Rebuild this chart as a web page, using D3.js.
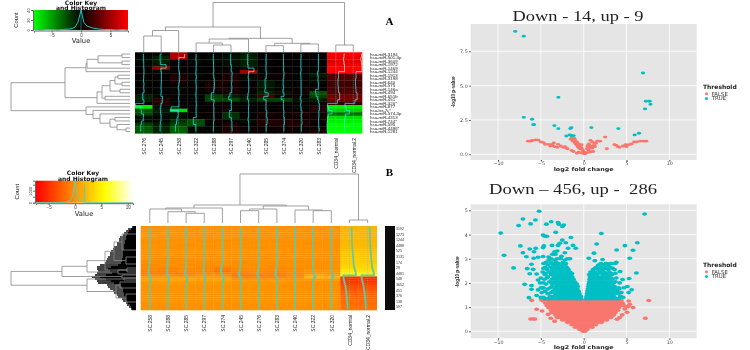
<!DOCTYPE html>
<html>
<head>
<meta charset="utf-8">
<script src="https://cdn.jsdelivr.net/npm/d3@7"></script>
<style>
body { margin: 0; background: #fff; }
svg { display: block; filter: blur(0.35px); }
text { font-family: "DejaVu Sans", sans-serif; }
.narrow { font-family: "Liberation Sans", sans-serif; }
.serif { font-family: "Liberation Serif", serif; }
</style>
</head>
<body>
<div id="chart"></div>
<script>
// ---- heatmap A
var colsA = ["SC.276", "SC.245", "SC.258", "SC.322", "SC.288", "SC.297", "SC.240", "SC.285", "SC.374", "SC.320", "SC.283", "CD34_normal", "CD34_normal.2"];
var rowsA = ["hsa-miR-3194", "hsa-miR-501-3p", "hsa-miR-3609", "hsa-miR-1972", "hsa-miR-1469", "hsa-miR-1244", "hsa-miR-1913", "hsa-miR-3198", "hsa-miR-640", "hsa-miR-575", "hsa-miR-146a", "hsa-miR-494", "hsa-miR-651b", "hsa-miR-451", "hsa-miR-320*", "hsa-miR-877", "hsa-let-7c*", "hsa-miR-574-3p", "hsa-miR-4313", "hsa-miR-744*", "hsa-miR-595", "hsa-miR-4486*", "hsa-miR-1281"];
var matrixA = [
    [0, .3, 5.5, 0, 0, -.3, -.8, 0, 0, .3, 0, 8, 8],
    [-.3, -1, 5.5, 0, -.2, -.5, -1, .2, 0, .2, .2, 7.5, 7.5],
    [-.3, -1, .2, -.2, -.3, -.5, -1, .1, 0, 0, .2, 7, 7],
    [0, -.8, .2, .2, 0, -.4, -.9, .2, .1, 0, 0, 7.5, 7.5],
    [0, 4.5, 0, 0, 0, .2, -.5, 0, .2, 0, 0, 8, 8],
    [.2, -.3, .2, 0, .2, .2, 5, 0, 0, .2, 0, 8, 8],
    [.2, .2, .8, -.3, -.2, 1, .2, .4, .6, -.2, -.8, 2.5, 2.5],
    [0, .2, 1, .3, .3, .8, -.3, .2, .3, 0, -.3, 2.5, 2.5],
    [-.2, .2, .8, -.2, .7, .8, .2, -.8, -.2, .2, -.3, 2, 2],
    [.2, 0, .3, 0, .8, .5, .2, -.8, -.3, .2, .2, 2, 2],
    [0, -.2, -.3, .2, .7, .8, .3, -.6, .2, .2, 0, 2.3, 2.3],
    [.3, 0, .2, 0, .2, .6, .2, -1, -.5, .3, -2.5, 2.5, 2.5],
    [-1, -.2, .3, -.2, -2, -1, -.5, 2, .5, .3, -2, 3.5, 3.5],
    [-1, 1.2, 0, 0, -2.2, -2.2, -1, -2, -2, -.5, -.8, 3.5, 3.5],
    [.2, 1, .3, 0, .5, .4, .1, .1, .1, .2, .3, 1.5, 1.5],
    [-7.5, -.3, .3, .2, 0, .2, .2, 0, 0, -.2, 1, -7.5, -7.5],
    [-2.5, -.8, -7, 0, .3, .5, 0, 0, .2, .2, 1, -6.5, -6.5],
    [-2.2, -.6, -.5, 0, .3, -1.5, .1, .8, .5, .9, .5, -3.5, -3.5],
    [-.3, -.2, -.5, .1, .3, -1.5, .2, .4, .3, .4, .6, -7, -7],
    [-.5, -.2, -1.5, -2.5, .4, .3, -.4, 1.2, 1, .8, .3, -7.5, -7.5],
    [-2, -.8, -2, -2.5, -.1, .8, .2, 1, 1, 1, .3, -8, -8],
    [-2.8, -1, -3, -.3, -.1, .8, .3, .2, .4, .4, .4, -8, -8],
    [-2.8, -1, -3, -.2, -.2, 1, .4, .3, .5, .4, .8, -8, -8]
];
// trees are [height, left, right], a bare number is a leaf index
var colTreeA = [49.5, [25, [21.5, [16, 0, 1], 2], [13.7, [13, [9, 3, [7, 4, 5]], 6], [8.7, [6.3, 7, 8], [8, 9, 10]]]], [7, 11, 12]];
var rowTreeA = [119, [65, [44, [43, [32, [8, 0, 1], [8, 2, 3]], 4], 5],
    [33, [28, [20, [15, [12, 6, 7], [8, 8, 9]], [10, 10, 11]], [25, 12, 13]], 14]],
    [44, 15, [37, 16, [30, 17, [20, [15, 18, 19], [13, 20, [4, 21, 22]]]]]]];
var keyTicksA = [-5, 0, 5];
var histBinsA = [-8, -7, -6, -5, -4, -3, -2, -1.5, -1, -.5, 0, .5, 1, 1.5, 2, 3, 4, 5, 6, 7, 8];
var histCountsA = [1, 0, 1, 1, 0, 1, 2, 3, 6, 16, 40, 15, 8, 6, 4, 2, 1, 1, 0, 1, 0];

// ---- heatmap B
var colsB = ["SC.258", "SC.288", "SC.285", "SC.297", "SC.374", "SC.245", "SC.276", "SC.283", "SC.240", "SC.322", "SC.320", "CD34_normal", "CD34_normal.2"];
var matrixB = [
    [0, .1, 0, .1, 0, .1, 0, .1, 0, .1, 0, 1.7, 1.8],
    [.1, 0, .1, 0, .1, 0, .1, 0, .2, 0, .1, 1.7, 1.7],
    [-.1, 0, -.1, .1, 0, 0, -.1, 0, 0, -.1, 0, 1.8, 1.8],
    [0, .2, .1, 0, .1, .1, 0, .2, .1, 0, .1, 1.9, 1.8],
    [.2, 0, 0, -.1, 0, .1, .1, 0, 0, .1, 0, 1.8, 1.9],
    [0, -.1, .1, 0, .2, 0, 0, .1, -.1, 0, .1, 2, 1.9],
    [.1, .1, 0, .1, 0, -.1, .1, 0, .1, .1, 0, 2, 2],
    [-.1, 0, .2, 0, 0, .1, 0, -.1, 0, 0, .1, 2, 2],
    [0, .1, 0, .2, .1, 0, .1, .1, .1, -.1, 0, 2.1, 2.1],
    [.2, 0, -.1, 0, 0, .1, .1, 0, 0, .1, 0, 2.2, 2.1],
    [0, -.1, .1, .1, .1, 0, -.1, .1, .1, 0, .1, 2.3, 2.3],
    [.1, .1, 0, 0, -.1, .1, 0, 0, 0, .1, 0, 2.4, 2.4],
    [0, 0, .1, .1, .2, 0, .1, .1, -.1, 0, 0, 2.6, 2.5],
    [-.2, .1, 0, -.1, 0, -.1, 0, -.1, .1, 0, .1, 2.7, 2.7],
    [0, 0, .1, 0, .1, .1, -.1, 0, 0, .1, 0, 2.8, 2.8],
    [.1, -.2, 0, .1, 0, 0, .1, .1, .1, 0, 0, 3, 2.9],
    [-.1, 0, -.1, 0, .2, .1, 0, 0, -.1, 0, .1, 3.1, 3],
    [0, -.2, .1, -.1, 0, -.2, .1, -.1, 0, .1, 0, 3.2, 3.2],
    [-.3, .1, -.2, 0, .1, 0, -.1, 0, .1, 0, 0, 3.4, 3.4],
    [-.2, -.3, 0, -.2, -.5, -.1, 0, -.2, 0, -.1, .1, 3.6, 3.6],
    [-.5, -.5, -.3, -.3, -1, -.3, -.2, -.3, -.2, 0, 0, 4, 3.9],
    [-.8, -.8, -.5, -.6, -1.4, -.5, -.4, -.6, -.3, .1, .1, 4.5, 4.3],
    [-1, -.9, -.8, -.5, -.8, -.9, -.7, -.9, -.4, .3, .2, 5, 4.8],
    [-.6, -.5, -.5, -.2, -.3, -1.4, -1.2, -1.2, -.6, 1, .7, 5.3, 5.2],
    [.4, .6, .6, .5, .5, -.8, -.7, -.6, -.1, 2, 1.8, -5, -5],
    [.8, .9, 1, .8, 1, .2, .3, .4, .2, .5, .5, -4.8, -4.8],
    [.5, .7, .6, .5, .7, .4, .4, .5, .3, .2, .1, -4.4, -4.5],
    [.3, .4, .4, .3, .4, .2, .3, .2, .1, 0, .1, -4, -4],
    [.2, .2, .1, .2, .2, .1, .2, .1, 0, .1, 0, -3.6, -3.5],
    [.1, .2, .2, .1, .1, 0, .1, .1, .1, 0, .1, -3.2, -3.2],
    [0, .1, .1, .1, .2, .1, 0, .1, 0, 0, 0, -2.9, -2.9],
    [.1, 0, .1, 0, .1, .1, .1, 0, .1, .1, 0, -2.7, -2.7],
    [0, .1, 0, .1, 0, 0, .1, .1, 0, 0, .1, -2.5, -2.4],
    [.1, .1, .1, 0, .1, .1, 0, 0, .1, .1, 0, -2.3, -2.3],
    [0, 0, .1, .1, 0, 0, .1, .1, 0, 0, .1, -2.1, -2.1],
    [.1, .1, 0, 0, .1, .1, 0, 0, .1, 0, 0, -2, -2],
    [0, .1, .1, .1, 0, 0, .1, .1, 0, .1, .1, -1.9, -1.9],
    [.1, 0, 0, 0, .1, .1, 0, 0, .1, 0, 0, -1.7, -1.7],
    [0, .1, .1, .1, 0, 0, .1, .1, 0, .1, .1, -1.6, -1.6],
    [.1, 0, 0, 0, .1, .1, 0, 0, .1, 0, 0, -1.5, -1.5]
];
var colTreeB = [49, [18, [15, [14, 0, [11.3, 1, [9.7, 2, 3]]], 4], [17, [14, [12.3, 5, 6], 7], [13, 8, [12.3, 9, 10]]]], [3, 11, 12]];
// upper levels of the row tree, leaves are row positions out of 84
var rowTreeB = [125, [74, [49, [31, [22, [14, 8, 24], [10, 31, 38]], [9, 42, 46]], [18, 44, 48]], [14, 49, 52]],
    [49, [12, 52, 54], [20, [16, 56, 62], [10, 68, 76]]]];
// comb and solid part of the unreadable leaf mass, one value every two rows
var combDepthB = [4, 8, 10, 12, 13, 16, 17, 17, 19, 19, 22, 23, 25, 26, 26, 28, 29, 30, 31, 36, 39, 39, 38, 39, 41, 44, 41, 39, 38, 29, 28, 26, 23, 22, 19, 18, 14, 13, 10, 9, 7, 5];
var solidDepthB = [3, 5, 7, 8, 9, 10, 10, 11, 11, 12, 12, 12, 13, 13, 13, 13, 14, 14, 15, 18, 25, 28, 26, 24, 30, 36, 30, 25, 22, 15, 14, 13, 13, 12, 12, 11, 10, 9, 8, 6, 5, 4];
var rowTagsB = ["3192", "1273", "1244", "4488", "525", "3131", "174", "28", "4481", "548", "3652", "451", "376", "138", "597"];
var keyTicksB = [-5, 0, 5, 10];
var histBinsB = [-7.4, -3, -1.5, -.8, -.4, 0, .4, .8, 1.5, 1.7, 1.8, 1.9, 2.2, 5, 11];
var histCountsB = [0, 10, 60, 220, 700, 1830, 700, 220, 60, 30, 1500, 30, 10, 2, 0];

// ---- volcano A
var xTicks = [-10, -5, 0, 5, 10];
var yTicksA = [0, 2.5, 5, 7.5];
var trueA = [[-8, 8.95], [-7, 8.6], [6.93, 5.92], [-2.96, 4.15], [7.28, 3.86], [7.7, 3.86], [7.8, 3.64], [7.16, 3.3], [-7, 2.69], [-6.03, 2.55], [-5.9, 2.16], [-5.8, 2.16], [-3.42, 2.09], [-2.96, 1.87], [-1.56, 1.87], [-1.44, 1.94], [.9, 1.94], [4.05, 1.87], [6.46, 1.53], [5.95, 1.41], [-2.02, 1.33], [-1.63, 1.41], [-1.44, 1.36], [-1.17, 1.36]];
var falseA = [[-6.5, .95], [-6.2, .95], [-6, 1], [-5.6, 1.05], [-5.3, 1.03], [-5, .9], [-4.7, .85], [-4.5, .72], [-4.1, .72], [-3.8, .7], [-3.6, .62], [-3.9, .6], [-3.4, .55], [-3.1, .5], [-3.5, .82], [-3, .72], [-2.7, .6], [-2.4, .5], [-2.2, .56], [-2, .45], [-1.9, .4], [-1.4, .28],
    [-1.5, 1.1], [-1.4, 1.2], [-1.3, 1.05], [-1.25, .95], [-1.1, 1.15], [-1.05, .9], [-1, 1], [-.95, .8], [-.9, .72], [-.8, .9], [-.75, .65], [-.7, .55], [-.6, .75], [-.55, .45], [-.5, .6], [-.4, .4], [-.3, .5], [-.25, .7], [-.15, .35], [-.1, .25], [0, .15], [.05, .05], [-.1, .08], [.2, .05], [.15, .12], [.3, .1], [-.3, .1], [.4, .4], [.45, .55], [.5, .65], [.55, .3], [.6, .75], [.7, .5], [.75, .45], [.9, .6], [1, .45], [1.1, .2], [.8, .18], [.6, .15], [1.2, .65], [1.3, .55], [1.4, .8], [-.6, .15], [-.8, .07], [-1.2, .2],
    [.8, 1], [1, .9], [1.3, .8], [1.6, .95], [1.9, .95], [2.5, 1.25], [2.7, .4], [3.6, .7], [3.8, .65], [4, .55], [4.2, .5], [4.6, .6], [4.9, .7], [5, .55], [5.3, .7], [5.6, .75], [5.9, .9], [6.2, .9], [6.6, .95], [7, .95], [7.3, .95]];

// ---- volcano B, the solid areas are read row by row: [y, [x, x, ...]]
var yTicksB = [0, 1, 2, 3, 4, 5];
var trueB = [[-5.2, 4.96], [-7.1, 4.64], [-5.64, 4.6], [-6.2, 4.44], [-7.6, 4.37], [-4.35, 4.43], [-3.8, 4.53], [-3, 4.5], [-2.9, 4.43], [-2.33, 4.39], [-2.5, 4.33], [-3.27, 4.09], [-9.7, 4.06], [-4.75, 3.98], [-4.3, 3.93], [-4.55, 3.93], [-1.5, 3.88], [-2.5, 3.77], [-2.1, 3.66], [-2.8, 3.64], [-3, 3.55], [-1.83, 3.43], [-1.25, 3.55], [-.93, 3.43], [-7.4, 3.53], [-4.66, 3.53], [-4.75, 3.46], [-3.7, 3.55], [-6.3, 3.4], [-5.6, 3.43], [-5.8, 3.29], [-7.1, 3.25], [-3.4, 3.29], [-3.1, 3.32], [-3.65, 3.18], [-3.3, 3.18], [-9.3, 3.14], [-6.7, 3.08], [-5.84, 3.02], [-5.33, 3.06], [-4.75, 3.09], [-6.1, 2.77], [-8.2, 2.62], [-6.6, 2.59], [-5.9, 2.56], [-6.3, 2.38], [-5.5, 2.37], [-5.33, 2.12], [-6.9, 1.94], [-6.1, 1.89], [-6.1, 1.74], [-5.33, 1.71], [-5.5, 1.48], [-6.4, 1.39], [-4.8, 1.78],
    [7.12, 4.85], [2.06, 4.04], [1.52, 3.61], [6.26, 3.66], [4.82, 3.54], [3.85, 3.36], [5.76, 3.35], [5.37, 3.02], [1.2, 3.23], [.6, 3.02], [2.2, 2.97], [1.3, 2.92], [1.7, 2.73], [6.15, 2.41], [5.3, 2.18], [4.55, 2.14], [5.1, 1.85], [5.6, 1.72], [5.25, 1.6], [4.25, 2.47], [3.8, 2.85], [3.3, 2.8], [2.9, 2.75], [2.6, 2.8], [-4.1, 3.07], [-2.2, 3.25], [-1.6, 3], [-2.6, 3.1]];
var trueRowsB = [
    [1.35, [-4.5, -4.1, -3.7, -3.3, -2.95, -2.6, -2.25, -1.9, -1.55, -1.2, -.85, -.5, -.3, .3, .6, .95, 1.3, 1.65, 2, 2.35, 2.7, 3.05, 3.4, 3.75, 4.1]],
    [1.4, [-5, -4.7, -3.2, -2.7, -2, -1.4, -.9, 1.2, 2.2, 3.3, 4.6]],
    [1.45, [-3.9, -3.5, -3.15, -2.8, -2.45, -2.1, -1.75, -1.4, -1.05, -.7, -.35, .35, .7, 1.05, 1.4, 1.75, 2.1, 2.45, 2.8, 3.15, 3.5, 4.3]],
    [1.55, [-4.2, -3.3, -2.95, -2.6, -2.25, -1.9, -1.55, -1.2, -.85, -.5, .4, .8, 1.15, 1.5, 1.85, 2.2, 2.55, 2.9, 3.25, 3.6, 4.05]],
    [1.6, [-4.9, -3.8, -1.6, -.7, 1, 2.4, 3.9, 4.4]],
    [1.65, [-4.5, -3.6, -3.1, -2.75, -2.4, -2.05, -1.7, -1.35, -1, -.6, .45, .85, 1.2, 1.55, 1.9, 2.25, 2.6, 2.95, 3.4, 3.9]],
    [1.75, [-4.2, -3.4, -2.9, -2.55, -2.2, -1.85, -1.5, -1.15, -.75, .5, .9, 1.25, 1.6, 1.95, 2.3, 2.65, 3, 3.3, 3.7, 4.15]],
    [1.8, [-5, -4.7, -3.9, -2.7, -1.3, -.9, .7, 1.4, 2.7, 3.5, 4.1, 4.7]],
    [1.85, [-3.7, -3.2, -2.8, -2.4, -2.05, -1.7, -1.35, -1, -.7, .55, .95, 1.3, 1.65, 2, 2.4, 2.8, 3.15, 3.6]],
    [1.95, [-4.4, -3.6, -3.05, -2.65, -2.3, -1.9, -1.55, -1.2, -.8, .6, 1, 1.35, 1.75, 2.1, 2.5, 2.85, 3.3]],
    [2, [-5.1, -4.7, -3.8, -3.2, -2.1, -1.3, -1, .9, 1.6, 2.4, 3, 3.5, 4.2]],
    [2.05, [-4, -3.4, -3, -2.55, -2.15, -1.8, -1.4, -1.05, .65, 1.05, 1.45, 1.8, 2.2, 2.65, 3.1, 3.7]],
    [2.15, [-4.6, -3.7, -3.2, -2.8, -2.4, -2, -1.6, -1.2, .7, 1.1, 1.5, 1.95, 2.4, 2.9, 3.35]],
    [2.2, [-5, -4.3, -3.4, -2.2, -1.4, .9, 1.7, 2.2, 2.7, 3.2, 3.8]],
    [2.25, [-4.2, -3.5, -3, -2.6, -2.2, -1.75, -1.35, .75, 1.2, 1.65, 2.1, 2.6, 3]],
    [2.35, [-4.55, -3.8, -3.2, -2.75, -2.35, -1.95, -1.45, .65, 1.1, 1.6, 2.25, 2.75, 3.3]],
    [2.4, [-4.4, -3.6, -2.6, -1.9, -1.4, 1, 1.6, 2.1, 2.6, 3.2, 3.7]],
    [2.45, [-4.8, -4, -3.45, -2.95, -2.5, -2, -1.6, .8, 1.3, 1.9, 2.4, 3]],
    [2.55, [-4.3, -3.7, -3.2, -2.7, -2.3, -1.8, 1.1, 1.7, 2.2, 2.85, 3.6]],
    [2.6, [-4.7, -3.5, -2.9, -2.5, -1.9, 1.3, 1.9, 2.4, 2.9, 3.4]],
    [2.65, [-4.5, -3.9, -3.4, -3, -2.5, -2, 1.5, 2.05, 2.6, 3.1]],
    [2.75, [-4.2, -3.6, -3.1, -2.6, -2.15, 1.85, 2.4]],
    [2.8, [-4.7, -3.7, -3.3, -2.9, -2.5, -2.1, 2, 2.7, 3.1, 3.7]],
    [2.85, [-4.4, -3.8, -3.2, -2.4]],
    [2.95, [-4.1, -3.4, -2.2]],
    [3, [-3.8, -3.1, -2.7, -1.9]]
];
var falseB = [[-6.07, 1.28], [-4.94, 1.3], [-4.75, 1.25], [-4.36, 1.3], [-4.45, 1.16], [-4.3, 1.06], [-5.5, .91], [-6.2, .51], [-5.9, .51], [-5.7, .51], [-4.86, .84], [7.6, 1.27], [7.2, .54], [5.25, 1.25], [5.37, 1.12], [4.55, 1.16], [5.18, 1.02], [5.76, .98], [4.8, .92], [5.06, .79], [4.5, .68], [4.2, .57], [-4.16, .7], [-3.85, .54], [-3.75, .78], [4.75, 1.05], [3.9, .5], [-3.4, .42]];
var falseRowsB = [
    [1.27, [-4.1, -3.7, -3.3, -2.9, -2.5, -2.1, -1.7, -1.3, -.9, -.5, -.2, .2, .5, .9, 1.3, 1.7, 2.1, 2.5, 2.9, 3.3, 3.7, 4.1, 4.4]],
    [1.17, [-4.2, -3.8, -3.4, -3, -2.6, -2.2, -1.8, -1.4, -1, -.6, -.15, .15, .6, 1, 1.4, 1.8, 2.2, 2.6, 3, 3.4, 3.8, 4.2]],
    [1.07, [-4, -3.6, -3.2, -2.8, -2.4, -2, -1.6, -1.2, -.8, -.4, -.12, .12, .4, .8, 1.2, 1.6, 2, 2.4, 2.8, 3.2, 3.6, 4, 4.3]],
    [.97, [-4.1, -3.7, -3.3, -2.9, -2.5, -2.1, -1.7, -1.3, -.9, -.5, -.1, .1, .5, .9, 1.3, 1.7, 2.1, 2.5, 2.9, 3.3, 3.7, 4.1]],
    [.87, [-3.8, -3.4, -3, -2.6, -2.2, -1.8, -1.4, -1, -.6, -.2, .1, .5, .9, 1.3, 1.7, 2.1, 2.5, 2.9, 3.3, 3.7, 4]],
    [.77, [-3.5, -3.1, -2.7, -2.3, -1.9, -1.5, -1.1, -.7, -.3, .1, .5, .9, 1.3, 1.7, 2.1, 2.5, 2.9, 3.3, 3.7]],
    [.67, [-3.3, -2.9, -2.5, -2.1, -1.7, -1.3, -.9, -.5, -.1, .3, .7, 1.1, 1.5, 1.9, 2.3, 2.7, 3.1, 3.5]],
    [.57, [-3.1, -2.7, -2.3, -1.9, -1.5, -1.1, -.7, -.3, .1, .5, .9, 1.3, 1.7, 2.1, 2.5, 2.9, 3.2]],
    [.47, [-2.5, -2.1, -1.7, -1.3, -.9, -.5, -.1, .3, .7, 1.1, 1.5, 1.9, 2.3, 2.7]],
    [.37, [-1.9, -1.5, -1.1, -.7, -.3, .1, .5, .9, 1.3, 1.7, 2.1]],
    [.27, [-1.4, -1, -.6, -.2, .2, .6, 1, 1.4]],
    [.17, [-1, -.6, -.2, .2, .6, 1]],
    [.08, [-.5, -.2, .1, .4]],
    [0, [-.1, .15]]
];

var width = 750, height = 350;
var svg = d3.select("#chart").append("svg")
    .attr("width", width)
    .attr("height", height);

function unrows(rows) {
    return rows.flatMap(function (r) {
        return r[1].map(function (x) { return [x, r[0]]; });
    });
}

// draws a dendrogram, returns the leaf/node position for the parent
function drawTree(g, node, pos, depth, vertical) {
    if (typeof node === "number") {
        return {p: pos(node), h: 0};
    }
    var a = drawTree(g, node[1], pos, depth, vertical),
        b = drawTree(g, node[2], pos, depth, vertical);
    var d = d3.path();
    if (vertical) {
        d.moveTo(a.p, depth(a.h));
        d.lineTo(a.p, depth(node[0]));
        d.lineTo(b.p, depth(node[0]));
        d.lineTo(b.p, depth(b.h));
    } else {
        d.moveTo(depth(a.h), a.p);
        d.lineTo(depth(node[0]), a.p);
        d.lineTo(depth(node[0]), b.p);
        d.lineTo(depth(b.h), b.p);
    }
    g.append("path").attr("d", d.toString())
        .attr("fill", "none").attr("stroke", "#888").attr("stroke-width", 0.8);
    return {p: (a.p + b.p) / 2, h: node[0]};
}

function drawCells(matrix, x, y, color, cols) {
    var g = svg.append("g");
    matrix.forEach(function (row, i) {
        g.selectAll(null).data(row).enter().append("rect")
            .attr("x", function (d, j) { return x(cols[j]); })
            .attr("y", y(i))
            .attr("width", x.bandwidth() + 0.3)
            .attr("height", y.bandwidth() + 0.3)
            .attr("fill", function (d) { return color(d); });
    });
}

function drawTrace(matrix, x, y, offset, cols, stroke, w, blend) {
    var g = svg.append("g").style("mix-blend-mode", blend);
    cols.forEach(function (c, j) {
        var cx = x(c) + x.bandwidth() / 2;
        g.append("line")
            .attr("x1", cx).attr("x2", cx)
            .attr("y1", y.range()[0]).attr("y2", y.range()[1])
            .attr("stroke", stroke).attr("stroke-width", 0.5).attr("stroke-dasharray", "1 1");
        var line = d3.line()
            .x(function (row) { return cx + offset(row[j]); })
            .y(function (row, i) { return y(i) + y.bandwidth() / 2; })
            .curve(d3.curveStepAfter);
        g.append("path").attr("d", line(matrix))
            .attr("fill", "none").attr("stroke", stroke).attr("stroke-width", w);
    });
}

function drawColLabels(cols, x, top, size) {
    svg.append("g").selectAll("text").data(cols).enter().append("text")
        .attr("class", "narrow")
        .attr("transform", function (d) {
            return "translate(" + (x(d) + x.bandwidth() / 2 + 0.5) + "," + top + ") rotate(-90)";
        })
        .attr("text-anchor", "end")
        .attr("dy", "0.35em")
        .attr("font-size", size)
        .attr("fill", "#222")
        .text(function (d) { return d; });
}

function drawKey(o) {
    var defs = svg.append("defs").append("linearGradient").attr("id", o.id);
    o.stops.forEach(function (s) {
        defs.append("stop").attr("offset", s[0]).attr("stop-color", s[1]);
    });
    var g = svg.append("g");
    g.append("rect")
        .attr("x", o.x.range()[0]).attr("y", o.y.range()[1])
        .attr("width", o.x.range()[1] - o.x.range()[0])
        .attr("height", o.y.range()[0] - o.y.range()[1])
        .attr("fill", "url(#" + o.id + ")");
    var hist = d3.line()
        .x(function (d) { return o.x(d[0]); })
        .y(function (d) { return o.y(d[1]); });
    g.append("line").attr("x1", o.x(0)).attr("x2", o.x(0))
        .attr("y1", o.y.range()[0]).attr("y2", o.y.range()[1])
        .attr("stroke", o.trace).attr("stroke-width", 0.6);
    g.append("path").attr("d", hist(d3.zip(o.bins, o.counts)))
        .attr("fill", "none").attr("stroke", o.trace).attr("stroke-width", 1);

    var bottom = g.append("g")
        .attr("transform", "translate(0," + (o.y.range()[0] + 0.5) + ")")
        .call(d3.axisBottom(o.x).tickValues(o.ticks).tickSize(2).tickPadding(1));
    bottom.selectAll("text").attr("font-size", 4.5).attr("class", "narrow").attr("fill", "#333");
    bottom.select(".domain").attr("stroke", "#666");
    bottom.selectAll("line").attr("stroke", "#666");

    var left = g.append("g")
        .attr("transform", "translate(" + (o.x.range()[0] - 1) + ",0)")
        .call(d3.axisLeft(o.y).tickValues(o.countTicks).tickSize(2).tickPadding(1)
            .tickFormat(function (d) { return o.countLabels.indexOf(d) >= 0 ? d : ""; }));
    left.selectAll("text").attr("font-size", 4).attr("class", "narrow").attr("fill", "#333")
        .attr("text-anchor", "middle")
        .attr("transform", "translate(-4.5,0) rotate(-90)")
        .attr("dy", "0.35em").attr("x", 0);
    left.select(".domain").attr("stroke", "#666");
    left.selectAll("line").attr("stroke", "#666");

    g.append("text").attr("class", "narrow")
        .attr("transform", "translate(" + o.countX + "," + o.countY + ") rotate(-90)")
        .attr("text-anchor", "middle").attr("font-size", 5.8).attr("fill", "#222").text("Count");
    g.append("text").attr("x", o.valueX).attr("y", o.valueY)
        .attr("text-anchor", "middle").attr("font-size", 6.8).attr("fill", "#222").text("Value");
    g.append("text").attr("x", o.cx).attr("y", o.titleY)
        .attr("text-anchor", "middle").attr("font-size", 6).attr("font-weight", "bold").attr("fill", "#111").text("Color Key");
    g.append("text").attr("x", o.cx).attr("y", o.titleY + 5.6)
        .attr("text-anchor", "middle").attr("font-size", 6).attr("font-weight", "bold").attr("fill", "#111").text("and Histogram");
}

// ---------- heatmap A
var xA = d3.scaleBand().domain(colsA).range([135, 362]);
var yA = d3.scaleBand().domain(d3.range(rowsA.length)).range([52.3, 133.3]);
var colorA = d3.scaleLinear().domain([-8, 0, 8]).range(["#00ff00", "#000000", "#ff0000"]);

drawCells(matrixA, xA, yA, colorA, colsA);
drawTrace(matrixA, xA, yA, function (v) { return v / 8 * xA.bandwidth() / 2; }, colsA, "#22d0d0", 0.8, "screen");

drawTree(svg.append("g"), colTreeA,
    function (i) { return xA(colsA[i]) + xA.bandwidth() / 2; },
    d3.scaleLinear().domain([0, 49.5]).range([52, 2.5]), true);
drawTree(svg.append("g"), rowTreeA,
    function (i) { return yA(i) + yA.bandwidth() / 2; },
    d3.scaleLinear().domain([0, 119]).range([130, 11]), false);

drawColLabels(colsA, xA, 138, 5);
svg.append("g").selectAll("text").data(rowsA).enter().append("text")
    .attr("class", "narrow")
    .attr("x", 370)
    .attr("y", function (d, i) { return yA(i) + yA.bandwidth() / 2; })
    .attr("dy", "0.35em")
    .attr("font-size", 4.4)
    .attr("fill", "#222")
    .text(function (d) { return d; });

drawKey({
    id: "keyA",
    x: d3.scaleLinear().domain([-8, 8]).range([34, 128]),
    y: d3.scaleLinear().domain([0, 40]).range([30, 10]),
    stops: [[0, "#00ff00"], [0.5, "#000000"], [1, "#ff0000"]],
    trace: "#22c0c0",
    bins: histBinsA, counts: histCountsA,
    ticks: keyTicksA, countTicks: [0, 20, 40], countLabels: [0, 20, 40],
    countX: 17.5, countY: 20, cx: 81, valueX: 81, valueY: 43, titleY: 4.5
});

// ---------- heatmap B
var xB = d3.scaleBand().domain(colsB).range([140.7, 376.7]);
var yB = d3.scaleBand().domain(d3.range(matrixB.length)).range([226, 310]);
var colorB = d3.scaleLinear().domain([-7.4, 5.7, 11]).range(["#ff0000", "#ffff00", "#ffffff"]);
var rowB = d3.scaleLinear().domain([0, 84]).range([226, 310]);

drawCells(matrixB, xB, yB, colorB, colsB);
drawTrace(matrixB, xB, yB, function (v) { return v / 7.4 * xB.bandwidth() / 2; }, colsB, "#62c9a4", 1.6, "normal");

drawTree(svg.append("g"), colTreeB,
    function (i) { return xB(colsB[i]) + xB.bandwidth() / 2; },
    d3.scaleLinear().domain([0, 49]).range([223, 174]), true);

// unreadable leaves of the row tree
var massG = svg.append("g");
var depthB = d3.scaleLinear().domain([0, 125]).range([136, 11]);
massG.selectAll(".comb").data(combDepthB).enter().append("line")
    .attr("class", "comb")
    .attr("x1", function (d) { return depthB(d); })
    .attr("x2", 136)
    .attr("y1", function (d, i) { return rowB(i * 2 + 1); })
    .attr("y2", function (d, i) { return rowB(i * 2 + 1); })
    .attr("stroke", "#000").attr("stroke-width", 1.4);
massG.selectAll(".solid").data(solidDepthB).enter().append("rect")
    .attr("class", "solid")
    .attr("x", function (d) { return depthB(d); })
    .attr("width", function (d) { return d; })
    .attr("y", function (d, i) { return rowB(i * 2); })
    .attr("height", rowB(2) - rowB(0) + 0.2)
    .attr("fill", "#000");
drawTree(svg.append("g"), rowTreeB, rowB, depthB, false);

drawColLabels(colsB, xB, 315, 5);

svg.append("rect").attr("x", 385).attr("y", 226).attr("width", 10).attr("height", 84).attr("fill", "#0c0c0c");
svg.append("g").selectAll("text").data(rowTagsB).enter().append("text")
    .attr("class", "narrow")
    .attr("x", 396)
    .attr("y", function (d, i) { return rowB((i + 0.5) * 84 / rowTagsB.length); })
    .attr("dy", "0.35em")
    .attr("font-size", 3.6)
    .attr("fill", "#333")
    .text(function (d) { return d; });

drawKey({
    id: "keyB",
    x: d3.scaleLinear().domain([-7.4, 11]).range([36, 133]),
    y: d3.scaleLinear().domain([0, 1830]).range([202.7, 180.7]),
    stops: [[0, "#ff0000"], [0.71, "#ffff00"], [1, "#ffffff"]],
    trace: "#6fc9a4",
    bins: histBinsB, counts: histCountsB,
    ticks: keyTicksB, countTicks: [0, 500, 1000, 1500], countLabels: [0, 1000],
    countX: 19, countY: 191.7, cx: 83, valueX: 84, valueY: 216, titleY: 175.3
});

svg.append("text").attr("class", "serif").attr("x", 389.5).attr("y", 25)
    .attr("text-anchor", "middle").attr("font-size", 11).attr("font-weight", "bold").text("A");
svg.append("text").attr("class", "serif").attr("x", 389.5).attr("y", 176)
    .attr("text-anchor", "middle").attr("font-size", 11).attr("font-weight", "bold").text("B");

// ---------- volcano plots
function drawVolcano(o) {
    var x = d3.scaleLinear().domain([-13.2, 13.2]).range([470.7, 696.7]);
    var y = o.y;
    var g = svg.append("g");
    g.append("rect")
        .attr("x", x.range()[0]).attr("y", y.range()[1])
        .attr("width", x.range()[1] - x.range()[0])
        .attr("height", y.range()[0] - y.range()[1])
        .attr("fill", "#e5e5e5");
    g.selectAll(".gx").data(xTicks).enter().append("line").attr("class", "gx")
        .attr("x1", x).attr("x2", x)
        .attr("y1", y.range()[0]).attr("y2", y.range()[1])
        .attr("stroke", "#fff").attr("stroke-width", 0.8);
    g.selectAll(".gy").data(o.yTicks).enter().append("line").attr("class", "gy")
        .attr("y1", y).attr("y2", y)
        .attr("x1", x.range()[0]).attr("x2", x.range()[1])
        .attr("stroke", "#fff").attr("stroke-width", 0.8);

    g.selectAll(".f").data(o.falseP).enter().append("ellipse").attr("class", "f")
        .attr("cx", function (d) { return x(d[0]); })
        .attr("cy", function (d) { return y(d[1]); })
        .attr("rx", o.rx).attr("ry", o.ry).attr("fill", "#F8766D");
    g.selectAll(".t").data(o.trueP).enter().append("ellipse").attr("class", "t")
        .attr("cx", function (d) { return x(d[0]); })
        .attr("cy", function (d) { return y(d[1]); })
        .attr("rx", o.rx).attr("ry", o.ry).attr("fill", "#00BFC4");

    var xAxis = g.append("g")
        .attr("transform", "translate(0," + y.range()[0] + ")")
        .call(d3.axisBottom(x).tickValues(xTicks).tickSize(1.5).tickPadding(0.3));
    var yAxis = g.append("g")
        .attr("transform", "translate(" + x.range()[0] + ",0)")
        .call(d3.axisLeft(y).tickValues(o.yTicks).tickFormat(o.format).tickSize(1.5).tickPadding(1.5));
    [xAxis, yAxis].forEach(function (a) {
        a.select(".domain").remove();
        a.selectAll("line").attr("stroke", "#333");
        a.selectAll("text").attr("font-size", 4.8).attr("fill", "#4d4d4d");
    });

    g.append("text").attr("x", x(0)).attr("y", o.xTitleY)
        .attr("text-anchor", "middle").attr("font-size", 5.2).attr("font-weight", "bold").attr("fill", "#222")
        .attr("textLength", 60).attr("lengthAdjust", "spacingAndGlyphs")
        .text("log2 fold change");
    g.append("text")
        .attr("class", "narrow")
        .attr("transform", "translate(" + o.yTitleX + "," + o.yTitleY + ") rotate(-90)")
        .attr("text-anchor", "middle").attr("font-size", 5.4).attr("font-weight", "bold").attr("fill", "#222")
        .attr("textLength", 31).attr("lengthAdjust", "spacingAndGlyphs")
        .text("-log10 p-value");

    g.append("text").attr("class", "serif").attr("x", o.titleX).attr("y", o.titleY)
        .attr("text-anchor", "middle").attr("font-size", 15).attr("fill", "#222")
        .attr("textLength", o.titleW).attr("lengthAdjust", "spacingAndGlyphs")
        .style("white-space", "pre")
        .text(o.title);

    g.append("text").attr("x", 703).attr("y", o.legendY)
        .attr("font-size", 6).attr("font-weight", "bold").attr("fill", "#222").text("Threshold");
    [["FALSE", "#F8766D"], ["TRUE", "#00BFC4"]].forEach(function (l, i) {
        var ly = o.legendY + 4.8 + i * 4.7;
        g.append("circle").attr("cx", 706.5).attr("cy", ly).attr("r", 1.5).attr("fill", l[1]);
        g.append("text").attr("x", 711.7).attr("y", ly).attr("dy", "0.35em")
            .attr("font-size", 5.4).attr("fill", "#333").text(l[0]);
    });
}

drawVolcano({
    y: d3.scaleLinear().domain([-0.42, 9.49]).range([160, 24]),
    yTicks: yTicksA, format: d3.format(".1f"),
    trueP: trueA, falseP: falseA, rx: 2.1, ry: 1.4,
    title: "Down - 14, up - 9", titleX: 578, titleY: 21, titleW: 131,
    xTitleY: 171, yTitleX: 455, yTitleY: 92, legendY: 89
});
drawVolcano({
    y: d3.scaleLinear().domain([-0.29, 5.25]).range([338.3, 204.3]),
    yTicks: yTicksB, format: d3.format("d"),
    trueP: trueB.concat(unrows(trueRowsB)), falseP: falseB.concat(unrows(falseRowsB)), rx: 2.5, ry: 1.8,
    title: "Down \u2013 456, up -  286", titleX: 573, titleY: 194, titleW: 168,
    xTitleY: 348.5, yTitleX: 459, yTitleY: 272, legendY: 267
});
</script>
</body>
</html>
